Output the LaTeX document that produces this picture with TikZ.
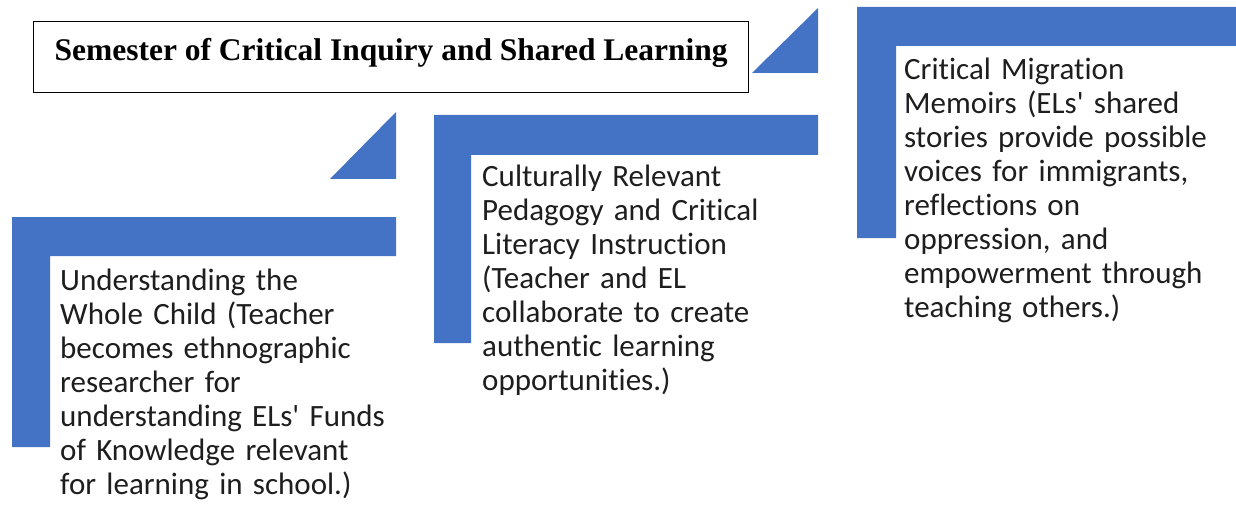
\documentclass[tikz,border=0pt]{standalone}
\usepackage{fontspec}
\setmainfont{Carlito}[Ligatures=NoCommon]
\newfontfamily\headfont{Liberation Serif}
\usetikzlibrary{positioning}
\definecolor{stepblue}{HTML}{4472C4}
\definecolor{inktext}{HTML}{1E1E1E}

\begin{document}
\begin{tikzpicture}[
        x=1pt, y=-1pt,
        band/.style={fill=stepblue, draw=none},
        headbox/.style={rectangle, draw, line width=1.3pt, minimum width=715pt, inner sep=0pt, text height=39pt, text depth=32pt, font=\headfont\bfseries\fontsize{31.5}{36}\selectfont},
        stage/.style={text width=380pt, align=left, inner sep=0pt, anchor=base west, text=inktext, font=\fontsize{31}{34}\selectfont}
    ]
    \useasboundingbox (0,0) rectangle (1236,505);

    % heading box
    \node (head) [headbox, anchor=north west] at (33,21) {Semester of Critical Inquiry and Shared Learning};

    % small step triangles
    \fill[band] (330,179) -- (396,179) -- (396,112) -- cycle;
    \fill[band] (752,73) -- (818,73) -- (818,8) -- cycle;

    % corner brackets, lowest step first
    \fill[band] (12,217) -- (396,217) -- (396,256) -- (50,256) -- (50,447) -- (12,447) -- cycle;
    \fill[band] (434,115) -- (818,115) -- (818,155) -- (471,155) -- (471,343) -- (434,343) -- cycle;
    \fill[band] (857,7) -- (1236,7) -- (1236,46) -- (896,46) -- (896,238) -- (857,238) -- cycle;

    \node (child) [stage] at (60,290) {Understanding the\\
        Whole Child (Teacher\\
        becomes ethnographic\\
        researcher for\\
        understanding ELs\textquotesingle{} Funds\\
        of Knowledge relevant\\
        for learning in school.)};
    \node (pedagogy) [stage] at (482,186) {Culturally Relevant\\
        Pedagogy and Critical\\
        Literacy Instruction\\
        (Teacher and EL\\
        collaborate to create\\
        authentic learning\\
        opportunities.)};
    \node (memoirs) [stage] at (904,80) {Critical Migration\\
        Memoirs (ELs\textquotesingle{} shared\\
        stories provide possible\\
        voices for immigrants,\\
        reflections on\\
        oppression, and\\
        empowerment through\\
        teaching others.)};
\end{tikzpicture}
\end{document}
